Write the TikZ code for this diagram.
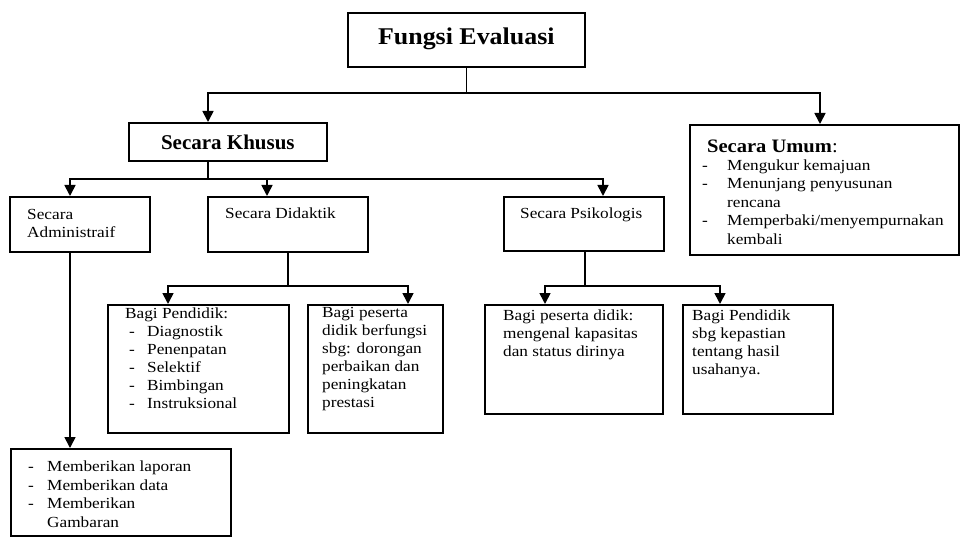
\documentclass[tikz,border=0pt]{standalone}
\usepackage{fontspec}
\setmainfont{Liberation Serif}[FakeStretch=1.12]
\newfontfamily\boldface{Liberation Serif}[FakeStretch=1.0]
\newfontfamily\titleface{Liberation Serif}[FakeStretch=1.08]
\usetikzlibrary{arrows.meta}
\begin{document}
\begin{tikzpicture}[x=1pt,y=-1pt,
  box/.style={draw, line width=1.7pt, inner sep=0pt, anchor=north west},
  txt/.style={inner sep=0pt, anchor=north west, align=left, font=\fontsize{15.4}{18.5}\selectfont},
  ttl/.style={inner sep=0pt, font=\boldface\bfseries\fontsize{22}{26}\selectfont},
  conn/.style={line width=1.7pt},
  arr/.style={conn, -{Triangle[width=11pt,length=11pt]}}]
\useasboundingbox[fill=white] (0,0) rectangle (963,537);
\newcommand{\dsh}{\makebox[25pt][l]{-}}
\newcommand{\ind}{\hspace*{25pt}}
\newcommand{\dshb}{\hspace*{4pt}\makebox[18pt][l]{-}}

% boxes
\node[box, minimum width=237pt, minimum height=54pt] (fungsi) at (347,12) {};
\node[box, minimum width=198pt, minimum height=38pt] (khusus) at (128,122) {};
\node[box, minimum width=269pt, minimum height=130pt] (umum) at (689,124) {};
\node[box, minimum width=140pt, minimum height=55pt] (admin) at (9,196) {};
\node[box, minimum width=160pt, minimum height=55pt] (didak) at (207,196) {};
\node[box, minimum width=160pt, minimum height=54pt] (psiko) at (503,196) {};
\node[box, minimum width=181pt, minimum height=128pt] (bpend) at (107,304) {};
\node[box, minimum width=135pt, minimum height=128pt] (bpes) at (307,304) {};
\node[box, minimum width=178pt, minimum height=109pt] (bpes2) at (484,304) {};
\node[box, minimum width=150pt, minimum height=109pt] (bpend2) at (682,304) {};
\node[box, minimum width=220pt, minimum height=87pt] (adminlist) at (10,448) {};

% texts
\node[ttl, font=\titleface\bfseries\fontsize{24}{28}\selectfont] (fungsiT) at ([yshift=1pt]fungsi.center) {Fungsi Evaluasi};
\node[ttl, font=\boldface\bfseries\fontsize{21}{25}\selectfont] (khususT) at (khusus.center) {Secara Khusus};
\node[txt] (adminT) at (27,209) {Secara\\Administraif};
\node[txt] (didakT) at (225,208) {Secara Didaktik};
\node[txt] (psikoT) at (520,208) {Secara Psikologis};
\node[inner sep=0pt, anchor=west, font=\titleface\fontsize{19}{23}\selectfont] (umumT) at (707,146) {\textbf{Secara Umum}:};
\node[txt] (umumL) at (702,159.5) {\dsh Mengukur kemajuan\\\dsh Menunjang penyusunan\\\ind rencana\\\dsh Memperbaki/menyempurnakan\\\ind kembali};
\node[txt, font=\fontsize{15.4}{18}\selectfont] (bpendT) at (125,307.5) {Bagi Pendidik:\\\dshb Diagnostik\\\dshb Penenpatan\\\dshb Selektif\\\dshb Bimbingan\\\dshb Instruksional};
\node[txt, font=\fontsize{15.4}{18}\selectfont] (bpesT) at (322,307.5) {Bagi peserta\\didik berfungsi\\sbg: dorongan\\perbaikan dan\\peningkatan\\prestasi};
\node[txt, font=\fontsize{15.4}{18}\selectfont] (bpes2T) at (503,309.5) {Bagi peserta didik:\\mengenal kapasitas\\dan status dirinya};
\node[txt, font=\fontsize{15.4}{18}\selectfont] (bpend2T) at (692,309.5) {Bagi Pendidik\\sbg kepastian\\tentang hasil\\usahanya.};
\node[txt, font=\fontsize{15.4}{18.7}\selectfont] (adminlistT) at (28,460.5) {\makebox[19pt][l]{-}Memberikan laporan\\\makebox[19pt][l]{-}Memberikan data\\\makebox[19pt][l]{-}Memberikan\\\hspace*{19pt}Gambaran};

% connectors
\coordinate (b1) at ([yshift=-25pt]fungsi.south);
\draw[conn] (fungsi.south) -- (b1);
\draw[arr] (b1) -| ([xshift=80pt]khusus.north west);
\draw[arr] (b1) -| ([xshift=131pt]umum.north west);

\coordinate (k0) at ([xshift=80pt]khusus.south west);
\coordinate (b2) at ([yshift=-17pt]k0);
\draw[conn] (k0) -- (b2);
\draw[arr] (b2) -| ([xshift=61pt]admin.north west);
\draw[arr] (b2) -| ([xshift=60pt]didak.north west);
\draw[arr] (b2) -| ([xshift=100pt]psiko.north west);

\draw[arr] ([xshift=61pt]admin.south west) -- ([xshift=60pt]adminlist.north west);

\coordinate (b3) at ([yshift=-33pt]didak.south);
\draw[conn] (didak.south) -- (b3);
\draw[arr] (b3) -| ([xshift=61pt]bpend.north west);
\draw[arr] (b3) -| ([xshift=101pt]bpes.north west);

\coordinate (p0) at ([xshift=82pt]psiko.south west);
\coordinate (b4) at ([yshift=-34pt]p0);
\draw[conn] (p0) -- (b4);
\draw[arr] (b4) -| ([xshift=61pt]bpes2.north west);
\draw[arr] (b4) -| ([xshift=38pt]bpend2.north west);
\end{tikzpicture}
\end{document}
